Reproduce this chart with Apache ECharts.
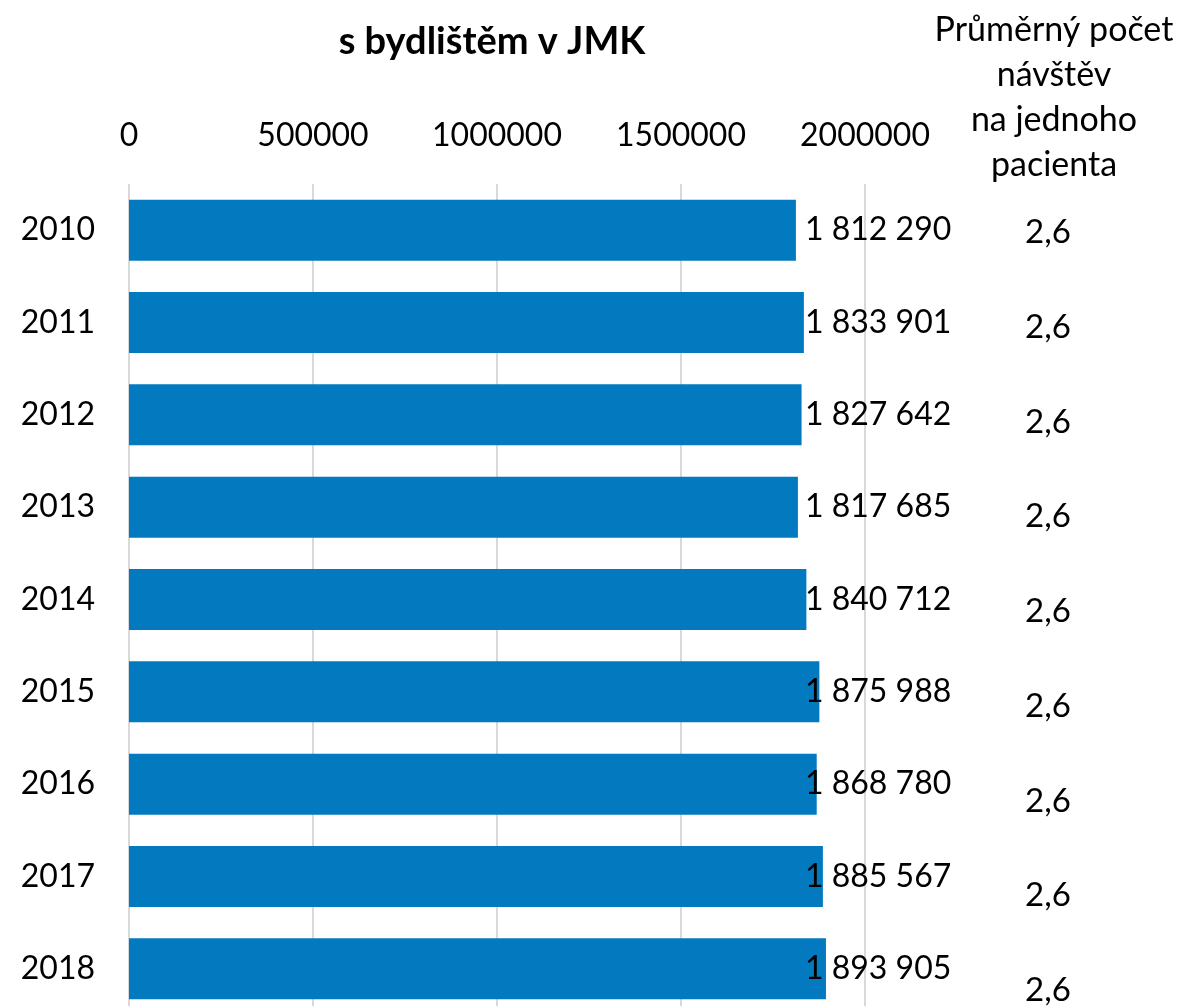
<!DOCTYPE html>
<html><head><meta charset="utf-8">
<script src="https://cdn.jsdelivr.net/npm/echarts@6/dist/echarts.min.js"></script>
<style>html,body{margin:0;padding:0;background:#fff}#c{width:1178px;height:1006px}</style>
</head><body><div id="c"></div>
<script>
const years = ['2010','2011','2012','2013','2014','2015','2016','2017','2018'];
const patients = [1812290, 1833901, 1827642, 1817685, 1840712, 1875988, 1868780, 1885567, 1893905];
const avgVisits = [2.6, 2.6, 2.6, 2.6, 2.6, 2.6, 2.6, 2.6, 2.6];
const xTicks = [0, 500000, 1000000, 1500000, 2000000];

const FONT = 'Lato';
const fmtThousands = v => String(v).replace(/\B(?=(\d{3})+(?!\d))/g, ' ');
const fmtComma = v => v.toFixed(1).replace('.', ',');

const chart = echarts.init(document.getElementById('c'));
chart.setOption({
  animation: false,
  textStyle: { fontFamily: FONT },
  title: [
    { text: 's bydlištěm v JMK', left: 487, top: 18, textAlign: 'center',
      textStyle: { fontFamily: FONT, fontSize: 38, fontWeight: 'bold', color: '#000' } },
    { text: 'Průměrný počet\nnávštěv\nna jednoho\npacienta', left: 1049, top: 3, textAlign: 'center',
      textStyle: { fontFamily: FONT, fontSize: 34, fontWeight: 'normal', color: '#000', lineHeight: 45, align: 'center' } }
  ],
  grid: [
    { left: 129, top: 184, width: 736, height: 831, outerBoundsMode: 'none' },
    { left: 1000, top: 185, width: 96, height: 853, outerBoundsMode: 'none' }
  ],
  xAxis: [
    { type: 'value', gridIndex: 0, position: 'top', min: 0, max: 2000000, interval: 500000,
      axisLine: { show: false }, axisTick: { show: false },
      axisLabel: { fontFamily: FONT, fontSize: 32, color: '#000', margin: 32,
        formatter: v => xTicks.includes(v) ? String(v) : '' },
      splitLine: { show: true, lineStyle: { color: '#d9d9d9', width: 2 } } },
    { type: 'value', gridIndex: 1, show: false }
  ],
  yAxis: [
    { type: 'category', gridIndex: 0, data: years, inverse: true, z: 10,
      axisLine: { show: false }, axisTick: { show: false },
      axisLabel: { fontFamily: FONT, fontSize: 32, color: '#000', margin: 34 } },
    { type: 'category', gridIndex: 0, data: patients.map(fmtThousands), inverse: true, position: 'right', offset: -60, z: 10,
      axisLine: { show: false }, axisTick: { show: false },
      axisLabel: { fontFamily: FONT, fontSize: 32, color: '#000', margin: 0, align: 'left' } },
    { type: 'category', gridIndex: 1, data: avgVisits.map(fmtComma), inverse: true, position: 'right', offset: -48, z: 10,
      axisLine: { show: false }, axisTick: { show: false },
      axisLabel: { fontFamily: FONT, fontSize: 33, color: '#000', margin: 0, align: 'center' } }
  ],
  series: [
    { type: 'bar', xAxisIndex: 0, yAxisIndex: 0, data: patients, barWidth: 61,
      itemStyle: { color: '#037abf' } }
  ]
});
</script></body></html>
